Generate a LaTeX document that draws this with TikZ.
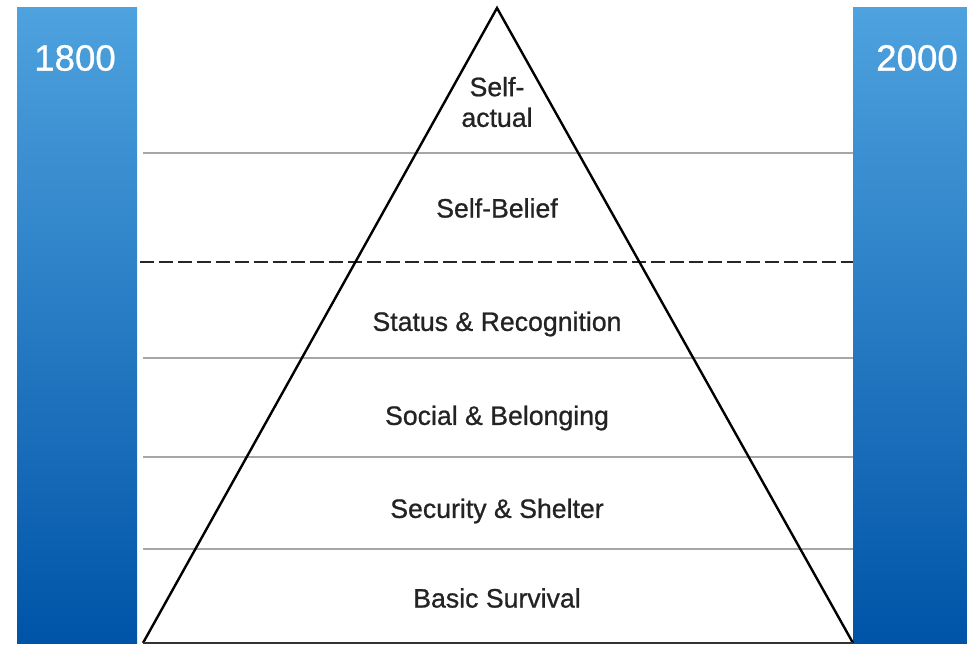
\documentclass[tikz,border=0pt]{standalone}
\usepackage{fontspec}
\setmainfont{Liberation Sans}
\newfontfamily\lblfont[FakeBold=0.8]{Liberation Sans}
\definecolor{bartop}{RGB}{78,162,222}
\definecolor{barbot}{RGB}{0,84,168}
\definecolor{txt}{RGB}{35,35,35}
\begin{document}
\begin{tikzpicture}[x=.75pt,y=-.75pt,
    level/.style={font=\lblfont\fontsize{20}{23}\selectfont,text=txt,align=center},
    year/.style={font=\lblfont\fontsize{27.5}{30}\selectfont,text=white},
    sep/.style={draw=gray!70,line width=1.2pt}]
\useasboundingbox (0,0) rectangle (967,646);
% \draw [help lines,step=50] (0,0) grid (967,646) ;

% the two year bars
\shade [top color=bartop,bottom color=barbot] (17,7) rectangle (137,643);
\shade [top color=bartop,bottom color=barbot] (853,7) rectangle (967,643);
\node [year] (y1800) at (75,58) {1800};
\node [year] (y2000) at (917,58) {2000};

% separating lines
\foreach \h in {153,358,457,549}
    \draw [sep] (143,\h) -- (853,\h);
\draw [line width=2.2pt,dash pattern=on 10.5pt off 3.7pt,black!85] (140,262) -- (853,262);

% the pyramid
\coordinate (top) at (497,8);
\coordinate (bl) at (143,643);
\coordinate (br) at (853,643);
\draw [line width=1.8pt,line join=miter] (bl) -- (top) -- (br);
\draw [line width=2.2pt,black!80] (bl) -- (br);

\node [level] (sact) at (497,102) {Self-\\actual};
\node [level] (sbel) at (497,208) {Self-Belief};
\node [level] (stat) at (497,324) {Status \& Recognition};
\node [level] (soc)  at (497,418) {Social \& Belonging};
\node [level] (sec)  at (497,511) {Security \& Shelter};
\node [level] (surv) at (497,598) {Basic Survival};
\end{tikzpicture}
\end{document}
